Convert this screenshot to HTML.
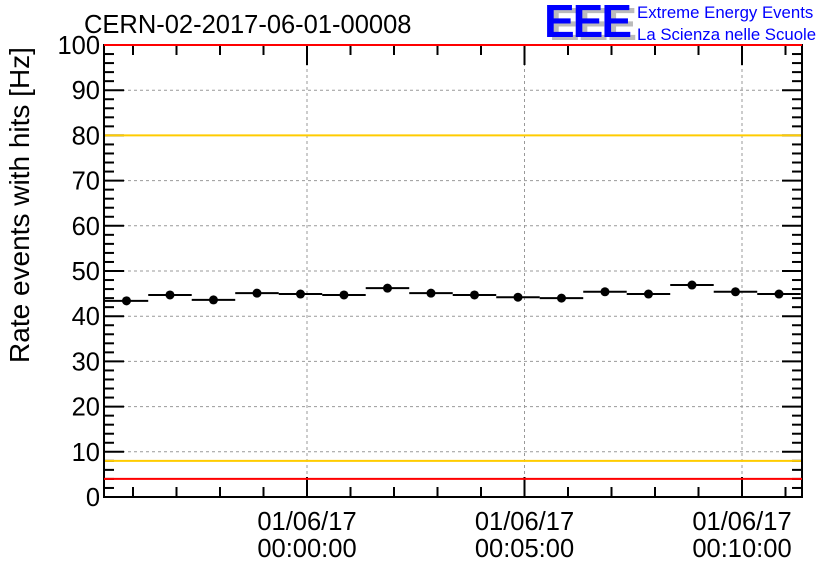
<!DOCTYPE html>
<html><head><meta charset="utf-8"><style>
body{margin:0;background:#fff;width:836px;height:572px;overflow:hidden}
svg{font-family:"Liberation Sans",sans-serif}
</style></head><body>
<svg id="c" width="836" height="572">
<text x="84" y="33" font-size="25.5">CERN-02-2017-06-01-00008</text>
<g>
<text x="549" y="40" font-size="46" font-weight="bold" fill="#bbb" letter-spacing="-2">EEE</text>
<text x="544" y="37" font-size="46" font-weight="bold" fill="#00f" letter-spacing="-2">EEE</text>
<text x="637" y="18" font-size="16.8" fill="#00f">Extreme Energy Events</text>
<text x="637" y="40" font-size="16.8" fill="#00f">La Scienza nelle Scuole</text>
</g>
<text transform="translate(29,205) rotate(-90)" text-anchor="middle" font-size="28">Rate events with hits [Hz]</text>
<g id="g"></g>
</svg>
<script>
const values=[43.4,44.7,43.6,45.1,44.9,44.7,46.2,45.1,44.7,44.2,44.0,45.4,44.9,46.9,45.4,44.9];
const binStartSec=-279, binWidthSec=60;
const yTicks=[0,10,20,30,40,50,60,70,80,90,100];
const timeTicks=[0,300,600];
const timeLabels=[["01/06/17","00:00:00"],["01/06/17","00:05:00"],["01/06/17","00:10:00"]];
const yellowLines=[80,8], redLines=[100,4];
const L=104,R=802,T=45,B=497;
const xs=s=>307+(s)*(742-307)/600;
const ys=v=>B-(v)*(B-T)/100;
const g=document.getElementById('g');const NS='http://www.w3.org/2000/svg';
function mk(t,a,name){const e=document.createElementNS(NS,t);for(const k in a)e.setAttribute(k,a[k]);


g.appendChild(e);return e;}
yTicks.forEach(v=>{if(v>0&&v<100)mk('line',{x1:L,x2:R,y1:ys(v),y2:ys(v),stroke:'#999','stroke-dasharray':'3,3'},'y-gridline');
const t=mk('text',{x:L-4,y:ys(v)+9,'text-anchor':'end','font-size':25.5},'y-tick-label');t.textContent=v;});
timeTicks.forEach((s,i)=>{mk('line',{x1:xs(s),x2:xs(s),y1:T,y2:B,stroke:'#999','stroke-dasharray':'3,3'},'x-gridline');
const t1=mk('text',{x:xs(s),y:530,'text-anchor':'middle','font-size':25.5},'x-tick-label');t1.textContent=timeLabels[i][0];
const t2=mk('text',{x:xs(s),y:557,'text-anchor':'middle','font-size':25.5},'x-tick-label');t2.textContent=timeLabels[i][1];});
for(let v=0;v<=100;v+=2){const len=v%10===0?20:10;
mk('line',{x1:L,x2:L+len,y1:ys(v),y2:ys(v),stroke:'#000','stroke-width':2},'y-tick');
mk('line',{x1:R-len,x2:R,y1:ys(v),y2:ys(v),stroke:'#000','stroke-width':2},'y-tick-right');}
for(let s=-240;s<=660;s+=60){const x=xs(s);if(x<L||x>R)continue;const len=s%300===0?20:10;
mk('line',{x1:x,x2:x,y1:B,y2:B-len,stroke:'#000','stroke-width':2},'x-tick');
mk('line',{x1:x,x2:x,y1:T,y2:T+len,stroke:'#000','stroke-width':2},'x-tick-top');}
yellowLines.forEach(v=>mk('line',{x1:L,x2:R,y1:ys(v),y2:ys(v),stroke:'#fc0','stroke-width':2},'yellow-threshold'));
mk('rect',{x:L,y:T,width:R-L,height:B-T,fill:'none',stroke:'#000','stroke-width':2},'plot-frame');
redLines.forEach(v=>mk('line',{x1:L,x2:R,y1:ys(v),y2:ys(v),stroke:'#f00','stroke-width':2},'red-threshold'));
values.forEach((v,i)=>{const s0=binStartSec+i*binWidthSec;
mk('line',{x1:xs(s0),x2:xs(s0+binWidthSec),y1:ys(v),y2:ys(v),stroke:'#000','stroke-width':2},'bin-bar');
mk('circle',{cx:xs(s0+binWidthSec/2),cy:ys(v),r:4.5,fill:'#000'},'data-point');});
</script>
</body></html>
